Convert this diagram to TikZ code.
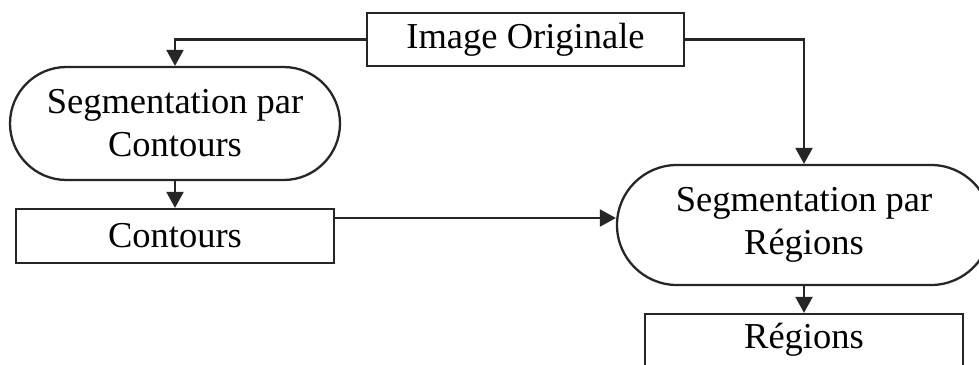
\documentclass[tikz,border=0pt]{standalone}
\usepackage{fontspec}
\setmainfont{Liberation Serif}
\usetikzlibrary{shapes.misc,arrows.meta}
\begin{document}
\begin{tikzpicture}[x=1pt,y=-1pt,
  every node/.style={font=\fontsize{36.5}{43}\selectfont, line width=2.3pt, draw=black!85, inner sep=0pt, align=center},
  box/.style={rectangle},
  stadium/.style={rounded rectangle},
  flow/.style={draw=black!85, line width=2.3pt, -{Triangle[width=17pt,length=16pt]}}]
\useasboundingbox (0,0) rectangle (979,364);
\clip (0,0) rectangle (979,364);
\fill[white] (0,0) rectangle (979,364);

\node[box, minimum width=317pt, minimum height=53pt] (img) at (525.5,39.5) {Image Originale};
\node[stadium, minimum width=330pt, minimum height=113pt] (segC) at (175,123.5) {Segmentation par\\Contours};
\node[box, minimum width=318pt, minimum height=54pt] (cont) at (175,236) {Contours};
\node[stadium, minimum width=374pt, minimum height=120pt] (segR) at (804,225) {Segmentation par\\Régions};
\node[box, minimum width=318pt, minimum height=52pt] (reg) at (804,340) {Régions};

\draw[flow] (img.west) -| (segC.north);
\draw[flow] (img.east) -| (segR.north);
\draw[flow] (segC.south) -- (cont.north);
\draw[flow] ([yshift=18pt]cont.east) -- ([yshift=18pt]cont.east -| segR.west);
\draw[flow] (segR.south) -- (reg.north);
\end{tikzpicture}
\end{document}
